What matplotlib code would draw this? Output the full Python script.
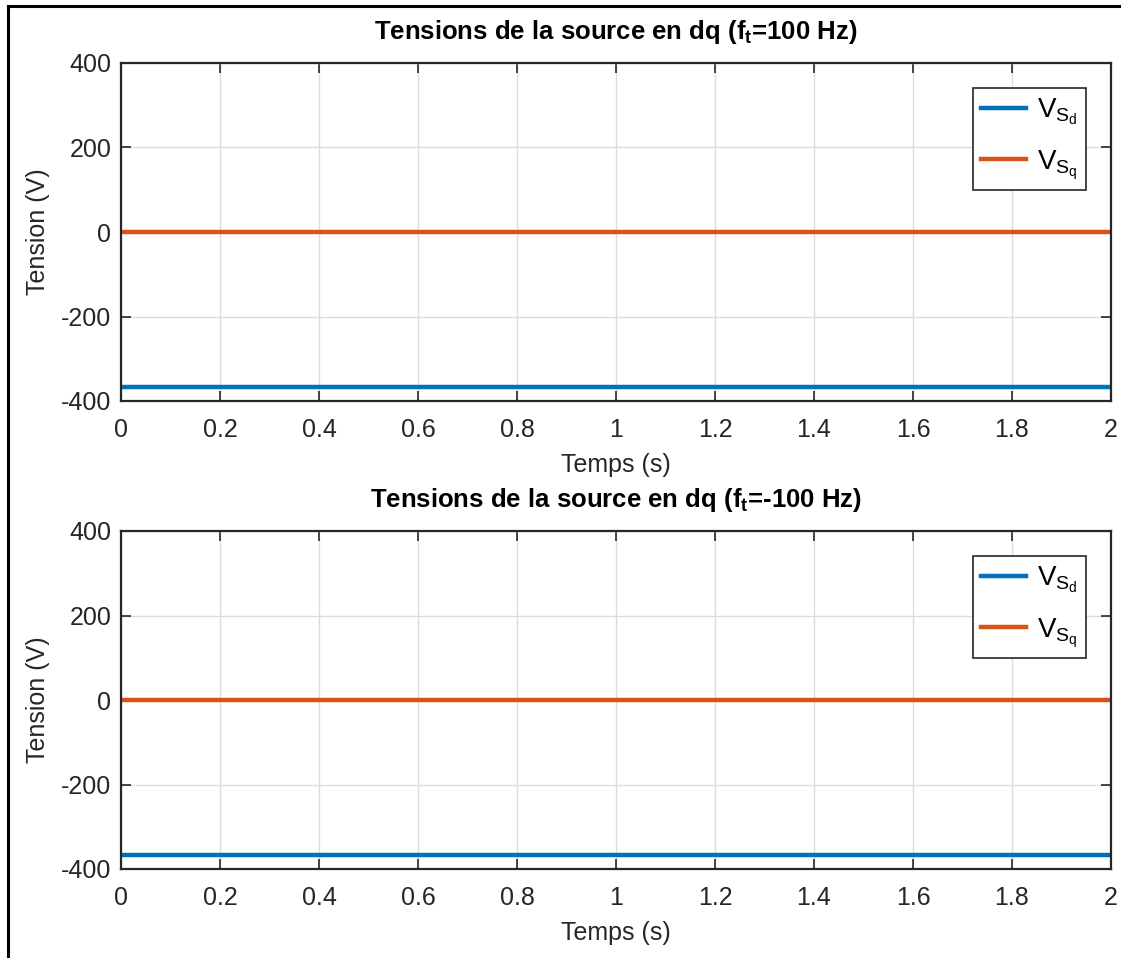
import numpy as np
import matplotlib.pyplot as plt
from matplotlib.lines import Line2D

plt.rcParams['font.family'] = ['Liberation Sans', 'DejaVu Sans']
plt.rcParams['mathtext.fontset'] = 'custom'
plt.rcParams['mathtext.rm'] = 'Liberation Sans'
plt.rcParams['mathtext.it'] = 'Liberation Sans'
plt.rcParams['mathtext.bf'] = 'Liberation Sans:bold'
plt.rcParams['axes.unicode_minus'] = False

# Données
temps = [0.0, 2.0]
vsd_pos = [-367.0, -367.0]
vsq_pos = [0.0, 0.0]
vsd_neg = [-367.0, -367.0]
vsq_neg = [0.0, 0.0]
titres = [r"Tensions de la source en dq ($\mathbf{f_t}$=100 Hz)",
          r"Tensions de la source en dq ($\mathbf{f_t}$=-100 Hz)"]
xticks = [0, 0.2, 0.4, 0.6, 0.8, 1, 1.2, 1.4, 1.6, 1.8, 2]
xlabels = ["0", "0.2", "0.4", "0.6", "0.8", "1", "1.2", "1.4", "1.6", "1.8", "2"]
yticks = [-400, -200, 0, 200, 400]

bleu = "#0072BD"
orange = "#D95319"

fig = plt.figure(figsize=(11.21, 9.58), dpi=100)

# cadre noir (haut et gauche)
fig.add_artist(Line2D([8/1121, 8/1121], [0, 1 - 6/958], color="black", lw=2.2,
                      transform=fig.transFigure))
fig.add_artist(Line2D([8/1121, 1], [1 - 6/958, 1 - 6/958], color="black", lw=2.2,
                      transform=fig.transFigure))

positions = [[121/1121, 1 - 401/958, 990/1121, 338/958],
             [121/1121, 1 - 869/958, 990/1121, 338/958]]
series = [(vsd_pos, vsq_pos), (vsd_neg, vsq_neg)]

for pos, (vsd, vsq), titre in zip(positions, series, titres):
    ax = fig.add_axes(pos)
    ax.plot(temps, vsd, color=bleu, lw=3.2, label=r"$\mathregular{V_{S_d}}$")
    ax.plot(temps, vsq, color=orange, lw=3.2, label=r"$\mathregular{V_{S_q}}$")
    ax.set_xlim(0, 2)
    ax.set_ylim(-400, 400)
    ax.set_xticks(xticks)
    ax.set_xticklabels(xlabels)
    ax.set_yticks(yticks)
    ax.grid(True, color="#dcdcdc", lw=1.0)
    ax.set_axisbelow(True)
    ax.tick_params(direction="in", labelsize=18, colors="#262626", length=7,
                   width=1.2, top=True, right=True)
    ax.tick_params(axis="x", pad=12)
    ax.tick_params(axis="y", pad=7)
    for s in ax.spines.values():
        s.set_color("#262626")
        s.set_linewidth(1.6)
    ax.set_xlabel("Temps (s)", fontsize=18, color="#262626", labelpad=8)
    ax.set_ylabel("Tension (V)", fontsize=18, color="#262626", labelpad=8)
    ax.set_title(titre, fontsize=18.5, fontweight="bold", pad=17)
    leg = ax.legend(loc="upper right", fontsize=20, fancybox=False,
                    edgecolor="#262626", framealpha=1, handlelength=1.6,
                    handletextpad=0.4, borderaxespad=0.9, labelspacing=0.75,
                    borderpad=0.3)
    leg.get_frame().set_linewidth(1.2)

fig.savefig("out.png", dpi=100)
